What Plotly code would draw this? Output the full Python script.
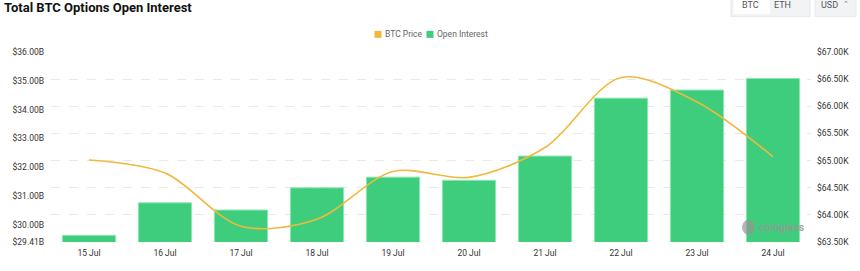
import plotly.graph_objects as go

dates = ["15 Jul", "16 Jul", "17 Jul", "18 Jul", "19 Jul", "20 Jul", "21 Jul", "22 Jul", "23 Jul", "24 Jul"]
open_interest_b = [29.64, 30.77, 30.52, 31.29, 31.66, 31.55, 32.39, 34.40, 34.68, 35.08]
btc_price_k = [65.01, 64.77, 63.79, 63.92, 64.80, 64.69, 65.24, 66.53, 66.08, 65.07]
left_ticks = [29.41, 30, 31, 32, 33, 34, 35, 36]
left_labels = ["$29.41B", "$30.00B", "$31.00B", "$32.00B", "$33.00B", "$34.00B", "$35.00B", "$36.00B"]
right_ticks = [63.5, 64.0, 64.5, 65.0, 65.5, 66.0, 66.5, 67.0]
right_labels = ["$63.50K", "$64.00K", "$64.50K", "$65.00K", "$65.50K", "$66.00K", "$66.50K", "$67.00K"]

GREEN = "#3ecd7d"
ORANGE = "#f0b93b"
FONT = "Roboto"

W, H = 860, 271
L, R, T, B = 51, 811, 51.7, 242.3


def px(x):
    return (x - L) / (R - L)


def py(y):
    return (B - y) / (B - T)


fig = go.Figure()
fig.add_trace(go.Bar(
    x=dates, y=open_interest_b, name="Open Interest",
    marker=dict(color=GREEN, line=dict(color="#8fe6b4", width=1)),
    showlegend=False, yaxis="y",
))
fig.add_trace(go.Scatter(
    x=dates, y=btc_price_k, name="BTC Price", mode="lines",
    line=dict(color=ORANGE, width=1.6, shape="spline", smoothing=0.9),
    showlegend=False, yaxis="y2", cliponaxis=False,
))

shapes = []
annotations = []

# manual legend
for sx, col, label in [(378, ORANGE, "BTC Price"), (430, GREEN, "Open Interest")]:
    shapes.append(dict(type="rect", xref="paper", yref="paper",
                       x0=px(sx - 3.5), x1=px(sx + 3.5), y0=py(37.5), y1=py(30.5),
                       fillcolor=col, line=dict(width=0), layer="above"))
    annotations.append(dict(text=label, xref="paper", yref="paper", x=px(sx + 5), y=py(34),
                            xanchor="left", yanchor="middle", showarrow=False,
                            font=dict(family=FONT, size=8.5, color="#666")))

# title
annotations.append(dict(text="<b>Total BTC Options Open Interest</b>", xref="paper", yref="paper",
                        x=px(2), y=py(7), xanchor="left", yanchor="middle", showarrow=False,
                        font=dict(family=FONT, size=13, color="#111")))

# top-right controls
shapes.append(dict(type="rect", xref="paper", yref="paper", x0=px(731), x1=px(810), y0=py(16), y1=py(-6),
                   fillcolor="#f2f3f5", line=dict(color="#e6e8eb", width=1), layer="above"))
shapes.append(dict(type="rect", xref="paper", yref="paper", x0=px(733.5), x1=px(770), y0=py(13.5), y1=py(-6),
                   fillcolor="#ffffff", line=dict(width=0), layer="above"))
shapes.append(dict(type="rect", xref="paper", yref="paper", x0=px(815), x1=px(856), y0=py(16), y1=py(-6),
                   fillcolor="#f2f3f5", line=dict(color="#e6e8eb", width=1), layer="above"))
for tx, t in [(750, "BTC"), (782, "ETH"), (829, "USD")]:
    annotations.append(dict(text=t, xref="paper", yref="paper", x=px(tx), y=py(5),
                            xanchor="center", yanchor="middle", showarrow=False,
                            font=dict(family=FONT, size=9, color="#555")))
annotations.append(dict(text="⌃", xref="paper", yref="paper", x=px(846), y=py(4),
                        xanchor="center", yanchor="middle", showarrow=False,
                        font=dict(family="DejaVu Sans", size=7, color="#777")))

# watermark
annotations.append(dict(text="<b>coinglass</b>", xref="paper", yref="paper", x=px(781.5), y=py(228),
                        xanchor="center", yanchor="middle", showarrow=False,
                        font=dict(family=FONT, size=10.5, color="rgba(150,150,150,0.85)")))
shapes.append(dict(type="circle", xref="paper", yref="paper", x0=px(742), x1=px(755), y0=py(235), y1=py(220),
                   fillcolor="rgba(150,150,150,0.7)", line=dict(width=0), layer="above"))

fig.update_layout(
    width=W, height=H,
    margin=dict(l=L, r=W - R, t=T, b=H - B, pad=0),
    paper_bgcolor="white", plot_bgcolor="white",
    bargap=0.30,
    showlegend=False,
    font=dict(family=FONT, size=8.5, color="#333"),
    xaxis=dict(type="category", showgrid=False, zeroline=False, showline=False,
               ticks="", tickfont=dict(size=8.5, color="#333"), ticklabelstandoff=4),
    yaxis=dict(range=[29.41, 36], tickvals=left_ticks, ticktext=left_labels,
               showgrid=False, zeroline=False, showline=False, ticks="",
               tickfont=dict(size=8.5, color="#333"), ticklabelstandoff=6),
    yaxis2=dict(range=[63.5, 67], tickvals=right_ticks, ticktext=right_labels,
                overlaying="y", side="right", showgrid=True, gridcolor="#e9e9e9",
                griddash="dash", gridwidth=1, zeroline=False, showline=False, ticks="",
                tickfont=dict(size=8.5, color="#333"), ticklabelstandoff=5),
    shapes=shapes, annotations=annotations,
)

fig.write_html("out.html")
